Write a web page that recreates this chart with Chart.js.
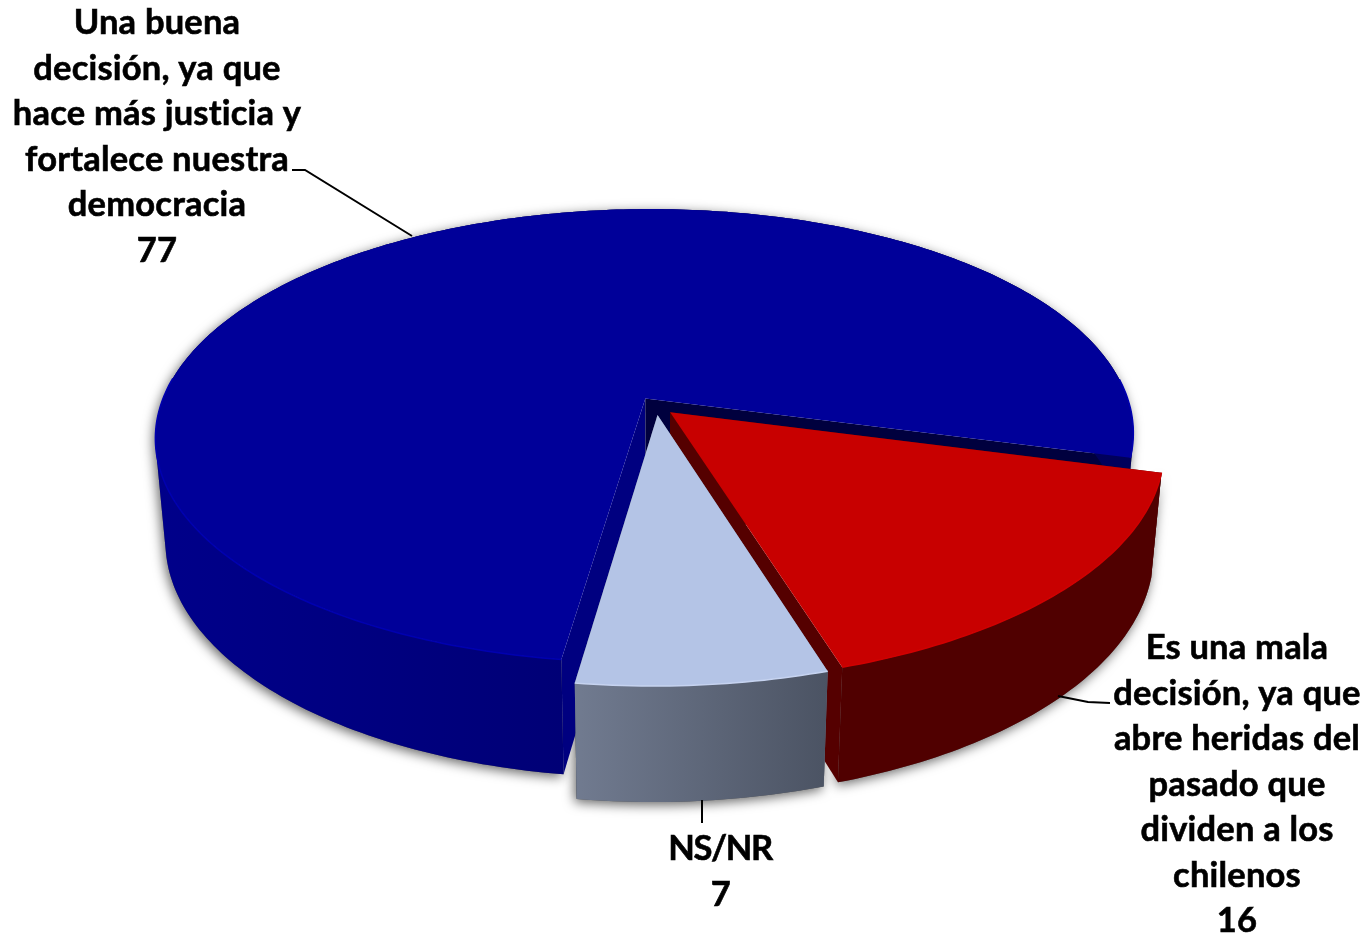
<!DOCTYPE html>
<html>
<head>
    <title>Decisión</title>
    <script src="https://cdn.jsdelivr.net/npm/chart.js"></script>
    <style>
        html, body { margin: 0; padding: 0; background: #fff; }
        canvas { display: block; }
    </style>
</head>
<body>
    <canvas id="pieChart" width="1369" height="936"></canvas>

    <script>
    const categories = ['Una buena decisión', 'Es una mala decisión', 'NS/NR'];
    const values = [77, 16, 7];
    const topColors = ['#000099', '#C80000', '#B4C4E6'];
    const bevelColors = ['#0000b0', '#d00000', '#c6d3f0'];
    const labelLines = [
        ['Una buena', 'decisión, ya que', 'hace más justicia y', 'fortalece nuestra', 'democracia', '77'],
        ['Es una mala', 'decisión, ya que', 'abre heridas del', 'pasado que', 'dividen a los', 'chilenos', '16'],
        ['NS/NR', '7']
    ];

    // wall colours per slice: rim left, rim right, face at start angle, face at end angle
    const wallColors = [
        ['#00008a', '#00005a', '#000080', '#00003e'],
        ['#500000', '#500000', '#550000', '#550000'],
        ['#717b90', '#4b5363', '#717b90', '#4b5363']
    ];

    // perspective of the pie plane, fitted to the picture
    const view = {hx: 656, hy: 406, a: 223, b: 485, s: 4, p: 0.165, q: 0.02, c: 104};

    function project(arc, px, py, h) {
        const u = (px - arc.x) / arc.outerRadius;
        const v = -(py - arc.y) / arc.outerRadius;
        const w = 1 + view.p * v + view.q * h;
        return [view.hx + (view.b * u + view.s * v) / w, view.hy + (-view.a * v + view.c * h) / w];
    }

    // outline of one slice in chart coordinates, moved out by its offset
    function sliceGeom(arc) {
        const mid = (arc.startAngle + arc.endAngle) / 2;
        const off = arc.options.offset / 4;
        const sx = arc.x + Math.cos(mid) * off;
        const sy = arc.y + Math.sin(mid) * off;
        const rim = [];
        const steps = Math.ceil((arc.endAngle - arc.startAngle) * 60);
        for (let i = 0; i <= steps; i++) {
            const t = arc.startAngle + (arc.endAngle - arc.startAngle) * i / steps;
            rim.push([sx + arc.outerRadius * Math.cos(t), sy + arc.outerRadius * Math.sin(t)]);
        }
        return {sx, sy, rim};
    }

    function fillPoly(ctx, pts, fill) {
        ctx.beginPath();
        pts.forEach((pt, i) => i ? ctx.lineTo(pt[0], pt[1]) : ctx.moveTo(pt[0], pt[1]));
        ctx.closePath();
        ctx.fillStyle = fill;
        ctx.fill();
    }

    // the rim wall as small quads, all wound the same way so the whole strip fills
    function fillWall(ctx, arc, geom, fill) {
        ctx.beginPath();
        for (let i = 0; i < geom.rim.length - 1; i++) {
            const a = geom.rim[i];
            const b = geom.rim[i + 1];
            let quad = [project(arc, a[0], a[1], 0), project(arc, b[0], b[1], 0), project(arc, b[0], b[1], 1), project(arc, a[0], a[1], 1)];
            let area = 0;
            quad.forEach((pt, j) => {
                const next = quad[(j + 1) % 4];
                area += pt[0] * next[1] - next[0] * pt[1];
            });
            if (area < 0) quad = quad.reverse();
            quad.forEach((pt, j) => j ? ctx.lineTo(pt[0], pt[1]) : ctx.moveTo(pt[0], pt[1]));
            ctx.closePath();
        }
        ctx.fillStyle = fill;
        ctx.fill();
    }

    function topPoly(arc, geom) {
        return [project(arc, geom.sx, geom.sy, 0)].concat(geom.rim.map(pt => project(arc, pt[0], pt[1], 0)));
    }

    function drawSlice(ctx, arc, index) {
        const geom = sliceGeom(arc);
        const colors = wallColors[index];
        const centerTop = project(arc, geom.sx, geom.sy, 0);
        const centerBottom = project(arc, geom.sx, geom.sy, 1);
        const first = geom.rim[0];
        const last = geom.rim[geom.rim.length - 1];

        fillPoly(ctx, [centerTop, project(arc, first[0], first[1], 0), project(arc, first[0], first[1], 1), centerBottom], colors[2]);
        fillPoly(ctx, [centerTop, project(arc, last[0], last[1], 0), project(arc, last[0], last[1], 1), centerBottom], colors[3]);

        // only the part of the rim facing us counts for the gradient
        const front = geom.rim.filter(pt => pt[1] > arc.y - 40).map(pt => project(arc, pt[0], pt[1], 0)[0]);
        const grad = ctx.createLinearGradient(Math.min(...front), 0, Math.max(...front), 0);
        grad.addColorStop(0, colors[0]);
        grad.addColorStop(1, colors[1]);
        fillWall(ctx, arc, geom, grad);

        fillPoly(ctx, topPoly(arc, geom), topColors[index]);

        // soft bevel along the rim, only on the side facing us
        ctx.beginPath();
        let pen = false;
        geom.rim.forEach(pt => {
            if (pt[1] > arc.y - 60) {
                const p = project(arc, pt[0], pt[1], 0);
                pen ? ctx.lineTo(p[0], p[1]) : ctx.moveTo(p[0], p[1]);
                pen = true;
            } else {
                pen = false;
            }
        });
        ctx.strokeStyle = bevelColors[index];
        ctx.lineWidth = 1.5;
        ctx.stroke();
    }

    const pie3d = {
        id: 'pie3d',
        beforeDatasetDraw(chart, args) {
            const ctx = chart.ctx;
            const arcs = args.meta.data;
            ctx.save();

            // shadows first, behind every slice
            ctx.shadowColor = 'rgba(0,0,0,0.6)';
            ctx.shadowBlur = 12;
            ctx.shadowOffsetX = -2;
            ctx.shadowOffsetY = 3;
            arcs.forEach(arc => fillWall(ctx, arc, sliceGeom(arc), '#555'));
            ctx.shadowColor = 'transparent';
            ctx.shadowBlur = 0;
            ctx.shadowOffsetX = 0;
            ctx.shadowOffsetY = 0;

            [0, 1, 2].forEach(i => drawSlice(ctx, arcs[i], i));
            ctx.restore();
            return false;
        },
        afterDraw(chart) {
            const ctx = chart.ctx;
            ctx.save();

            // leader lines
            ctx.strokeStyle = '#000';
            ctx.lineWidth = 2;
            [
                [[292, 170], [305, 170], [412, 236]],
                [[1110, 703], [1088, 702], [1058, 696]],
                [[702, 800], [702, 823]]
            ].forEach(line => {
                ctx.beginPath();
                line.forEach((pt, i) => i ? ctx.lineTo(pt[0], pt[1]) : ctx.moveTo(pt[0], pt[1]));
                ctx.stroke();
            });

            // slice labels
            ctx.fillStyle = '#000';
            ctx.strokeStyle = '#000';
            ctx.lineWidth = 0.6;
            ctx.font = 'bold 34.5px Lato';
            ctx.textAlign = 'center';
            ctx.textBaseline = 'alphabetic';
            const anchors = [[157, 34], [1237, 659], [720, 860]];
            const spacing = ['0.2px', '0.2px', '-1.4px'];
            labelLines.forEach((lines, i) => {
                ctx.letterSpacing = spacing[i];
                lines.forEach((line, j) => {
                    ctx.fillText(line, anchors[i][0], anchors[i][1] + j * 45.5);
                    ctx.strokeText(line, anchors[i][0], anchors[i][1] + j * 45.5);
                });
            });
            ctx.restore();
        }
    };

    new Chart(document.getElementById('pieChart').getContext('2d'), {
        type: 'pie',
        data: {
            labels: categories,
            datasets: [{
                data: values,
                backgroundColor: topColors,
                borderWidth: 0,
                offset: 70
            }]
        },
        options: {
            responsive: false,
            animation: false,
            rotation: 187.7,
            plugins: {
                legend: {display: false},
                tooltip: {enabled: false}
            }
        },
        plugins: [pie3d]
    });
    </script>
</body>
</html>
